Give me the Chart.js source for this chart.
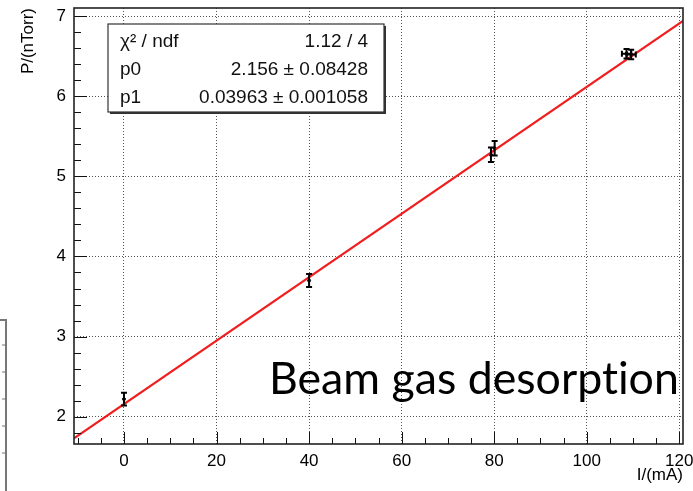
<!DOCTYPE html>
<html>
<head>
<meta charset="utf-8">
<script src="https://cdn.jsdelivr.net/npm/chart.js@4/dist/chart.umd.min.js"></script>
<style>
  html, body { margin: 0; padding: 0; background: #fff; }
  #wrap { width: 693px; height: 491px; position: relative; }
</style>
</head>
<body>
<div id="wrap"><canvas id="pressureChart" width="693" height="491"></canvas></div>
<script>
// misure: corrente del fascio (mA) e pressione (nTorr)
const currents = [0, 40, 79.3, 80.1, 108.6, 109.6];
const currentErr = [0, 0, 0, 0, 1.0, 1.0];
const pressures = [2.22, 3.70, 5.27, 5.35, 6.53, 6.52];
const pressureErr = [0.08, 0.08, 0.09, 0.09, 0.06, 0.06];

// retta di fit (estremi del frame)
const fitX = [-10.8, 120.8];
const fitY = [1.73, 6.94];

// tacche degli assi
const xTicks = [0, 20, 40, 60, 80, 100, 120];
const yTicks = [2, 3, 4, 5, 6, 7];

// box delle statistiche
const statNames = ['χ² / ndf', 'p0', 'p1'];
const statValues = ['1.12 / 4', '2.156 ± 0.08428', '0.03963 ± 0.001058'];

const ROOT_FONT = '"Liberation Sans", Arial, sans-serif';

// disegna frame, tacche interne, barre d'errore, box e scritta
const rootStyle = {
    id: 'rootStyle',
    afterDatasetsDraw(chart) {
        const ctx = chart.ctx;
        const a = chart.chartArea;
        const xs = chart.scales.x, ys = chart.scales.y;

        ctx.save();
        // tacche interne
        ctx.strokeStyle = '#111';
        ctx.lineWidth = 1;
        for (let v = -10; v <= 120.8; v += 5) {
            const px = Math.round(xs.getPixelForValue(v)) + 0.5;
            const len = (v % 20 === 0) ? 12 : 6;
            ctx.beginPath();
            ctx.moveTo(px, a.bottom);
            ctx.lineTo(px, a.bottom - len);
            ctx.stroke();
        }
        for (let k = 9; k <= 35; k++) {
            const v = k / 5;
            if (v < ys.min || v > ys.max) continue;
            const py = Math.round(ys.getPixelForValue(v)) + 0.5;
            const len = (k % 5 === 0) ? 13 : 7;
            ctx.beginPath();
            ctx.moveTo(a.left, py);
            ctx.lineTo(a.left + len, py);
            ctx.stroke();
        }

        // frame
        ctx.strokeStyle = '#222';
        ctx.lineWidth = 1.6;
        ctx.strokeRect(a.left, a.top, a.right - a.left, a.bottom - a.top);

        // barre d'errore
        ctx.strokeStyle = '#000';
        ctx.lineWidth = 2;
        currents.forEach(function(c, i) {
            const px = xs.getPixelForValue(c);
            const py = ys.getPixelForValue(pressures[i]);
            const top = ys.getPixelForValue(pressures[i] + pressureErr[i]);
            const bot = ys.getPixelForValue(pressures[i] - pressureErr[i]);
            ctx.beginPath();
            ctx.moveTo(px, top); ctx.lineTo(px, bot);
            ctx.moveTo(px - 3, top); ctx.lineTo(px + 3, top);
            ctx.moveTo(px - 3, bot); ctx.lineTo(px + 3, bot);
            if (currentErr[i] > 0) {
                const l = xs.getPixelForValue(c - currentErr[i]);
                const r = xs.getPixelForValue(c + currentErr[i]);
                ctx.moveTo(l, py); ctx.lineTo(r, py);
                ctx.moveTo(l, py - 3); ctx.lineTo(l, py + 3);
                ctx.moveTo(r, py - 3); ctx.lineTo(r, py + 3);
            }
            ctx.stroke();
        });
        ctx.restore();
    },
    afterDraw(chart) {
        const ctx = chart.ctx;
        const a = chart.chartArea;
        ctx.save();

        // box statistiche
        const bx = a.left + 34, by = a.top + 16, bw = 276, bh = 88;
        ctx.fillStyle = '#333';
        ctx.fillRect(bx + 2, by + 2, bw, bh);
        ctx.fillStyle = '#fff';
        ctx.fillRect(bx, by, bw, bh);
        ctx.strokeStyle = '#333';
        ctx.lineWidth = 1.2;
        ctx.strokeRect(bx, by, bw, bh);
        ctx.fillStyle = '#111';
        ctx.font = '19px ' + ROOT_FONT;
        ctx.textBaseline = 'middle';
        statNames.forEach(function(name, i) {
            const y = by + 18 + i * 27.8;
            ctx.textAlign = 'left';
            ctx.fillText(name, bx + 12, y);
            ctx.textAlign = 'right';
            ctx.fillText(statValues[i], bx + bw - 16, y);
        });

        // scritta grande (ZWNJ per evitare la legatura "ti")
        const label = 'Beam gas desorpt\u200Cion';
        let size = 40;
        ctx.font = size + 'px Lato, "Open Sans", sans-serif';
        size = size * 410 / ctx.measureText(label).width;
        ctx.font = size + 'px Lato, "Open Sans", sans-serif';
        ctx.fillStyle = '#000';
        ctx.textAlign = 'left';
        ctx.textBaseline = 'alphabetic';
        ctx.fillText(label, 269, 394);

        // pezzo di altra figura tagliato a sinistra
        ctx.strokeStyle = '#777';
        ctx.lineWidth = 2;
        ctx.beginPath();
        ctx.moveTo(0, 320); ctx.lineTo(6, 320); ctx.lineTo(6, 491);
        ctx.stroke();
        ctx.lineWidth = 1;
        for (let y = 345; y < 480; y += 27) {
            ctx.beginPath();
            ctx.moveTo(2, y); ctx.lineTo(6, y);
            ctx.stroke();
        }
        ctx.restore();
    }
};

const ctx = document.getElementById('pressureChart').getContext('2d');
const chart = new Chart(ctx, {
    type: 'scatter',
    data: {
        datasets: [{
            type: 'line',
            label: 'fit',
            data: fitX.map(function(x, i) { return { x: x, y: fitY[i] }; }),
            borderColor: 'rgb(240, 30, 30)',
            borderWidth: 2.2,
            pointRadius: 0,
            fill: false
        }, {
            label: 'dati',
            data: currents.map(function(c, i) { return { x: c, y: pressures[i] }; }),
            backgroundColor: '#000',
            borderColor: '#000',
            pointRadius: 1.5
        }]
    },
    options: {
        responsive: false,
        animation: false,
        devicePixelRatio: 1,
        layout: { padding: { top: 8, right: 10, left: 0, bottom: 0 } },
        plugins: {
            legend: { display: false },
            tooltip: { enabled: false }
        },
        scales: {
            x: {
                type: 'linear',
                min: -10.8,
                max: 120.8,
                afterBuildTicks: function(scale) {
                    scale.ticks = xTicks.map(function(v) { return { value: v }; });
                },
                afterFit: function(scale) {
                    scale.height = 47;
                    scale.paddingLeft = 0;
                    scale.paddingRight = 0;
                },
                grid: { color: '#555', lineWidth: 1, drawTicks: false },
                border: { display: false, dash: [1, 2] },
                ticks: {
                    color: '#000',
                    padding: 7,
                    maxRotation: 0,
                    font: { family: ROOT_FONT, size: 17 }
                },
                title: {
                    display: true,
                    text: 'I/(mA)',
                    align: 'end',
                    color: '#000',
                    padding: { top: 0, bottom: 5 },
                    font: { family: ROOT_FONT, size: 17 }
                }
            },
            y: {
                type: 'linear',
                min: 1.66,
                max: 7.1,
                afterBuildTicks: function(scale) {
                    scale.ticks = yTicks.map(function(v) { return { value: v }; });
                },
                afterFit: function(scale) {
                    scale.width = 74;
                    scale.paddingTop = 0;
                    scale.paddingBottom = 0;
                },
                grid: { color: '#555', lineWidth: 1, drawTicks: false },
                border: { display: false, dash: [1, 2] },
                ticks: {
                    color: '#000',
                    padding: 8,
                    font: { family: ROOT_FONT, size: 17 }
                },
                title: {
                    display: true,
                    text: 'P/(nTorr)',
                    align: 'end',
                    color: '#000',
                    padding: { top: 18, bottom: 0 },
                    font: { family: ROOT_FONT, size: 17 }
                }
            }
        }
    },
    plugins: [rootStyle]
});
</script>
</body>
</html>
